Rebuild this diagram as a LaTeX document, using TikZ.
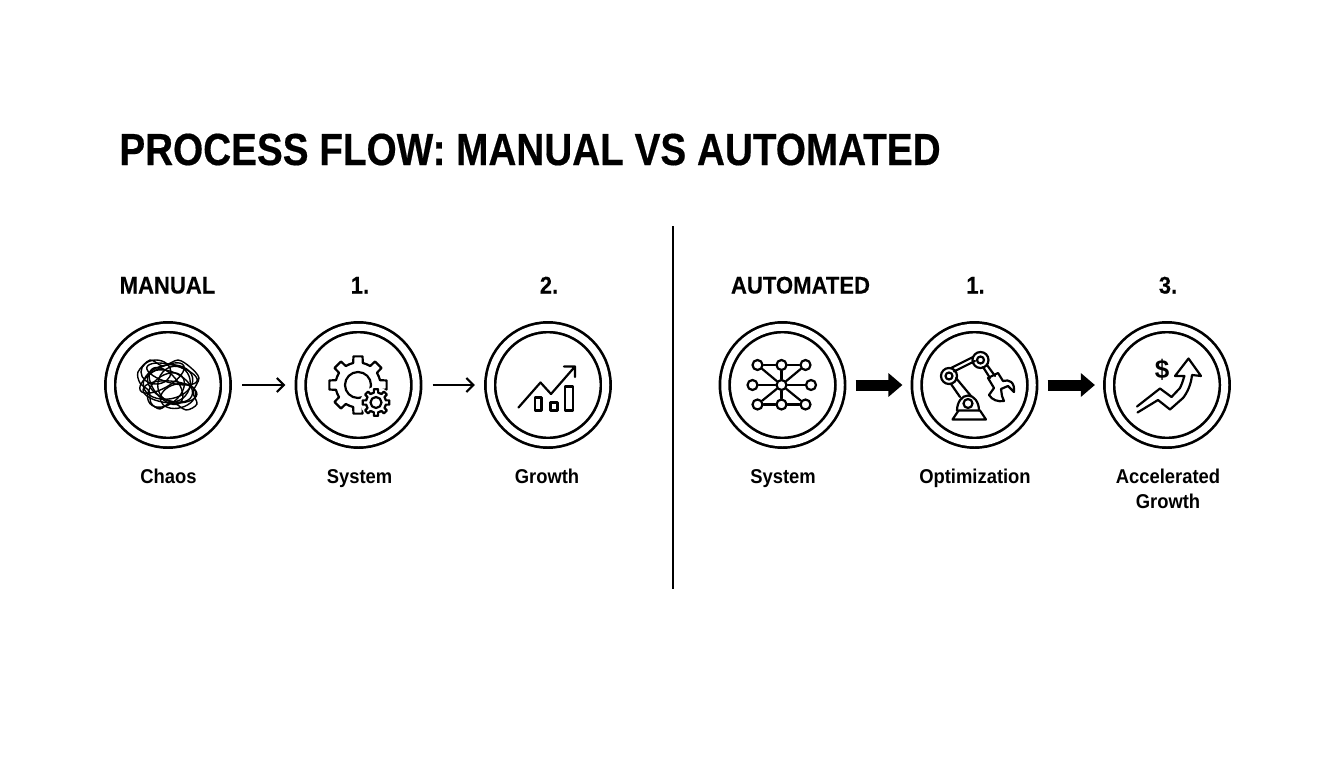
\documentclass[tikz,border=0pt]{standalone}
\usepackage{fontspec}
\setmainfont{Liberation Sans}
\newfontfamily\titlefont[FakeStretch=0.86,FakeBold=0.4]{Liberation Sans Bold}
\newfontfamily\headfont[FakeStretch=0.92,FakeBold=0.2]{Liberation Sans Bold}
\newfontfamily\capfont[FakeStretch=0.92]{Liberation Sans Bold}
\usetikzlibrary{arrows.meta}
\tikzset{
  ring/.style={circle,draw,double,line width=2.7pt,double distance=7pt,minimum size=115.5pt,inner sep=0pt},
  head/.style={font=\headfont\fontsize{24}{28}\selectfont,anchor=base},
  caption/.style={font=\capfont\fontsize{20}{25}\selectfont,align=center,anchor=base},
  thinarrow/.style={-{Straight Barb[length=7pt,width=14pt]},line width=2.2pt,shorten <=15pt,shorten >=14pt},
  thickarrow/.style={-{Triangle[length=14pt,width=23pt]},line width=11pt,shorten <=14pt,shorten >=13pt},
  icon/.style={line width=2.2pt,line join=round,line cap=round},
  scribble/.style={line width=1.4pt},
  dot/.style={circle,draw,fill=white,line width=2.2pt,minimum size=10pt,inner sep=0pt}
}
\newcommand{\gearicon}[4]{
  \foreach \i in {1,...,#4}{
    \pgfmathsetmacro{\a}{360/#4*\i}
    \pgfmathsetmacro{\s}{180/#4}
    \draw[icon,shift={(#1)}] (\a-\s:#3) -- (\a-0.55*\s:#3) -- (\a-0.4*\s:#2) -- (\a+0.4*\s:#2) -- (\a+0.55*\s:#3) -- (\a+\s:#3);
  }
}
\begin{document}
\begin{tikzpicture}[x=1pt,y=-1pt]
\useasboundingbox (0,0) rectangle (1344,768);
\node[font=\titlefont\fontsize{45}{50}\selectfont,anchor=base] (title) at (530,165) {PROCESS FLOW: MANUAL VS AUTOMATED};
\coordinate (divtop) at (673,226);
\coordinate (divbot) at (673,589);
\draw[line width=2pt] (divtop) -- (divbot);

\foreach \name/\x in {chaos/168,system/358.5,growth/548,network/782.5,robot/974.5,accel/1167}
  \node[ring] (\name) at (\x,385) {};

\node[head] (manual) at (167.5,293.5) {MANUAL};
\node[head] (numa) at (360,293.5) {1.};
\node[head] (numb) at (549,293.5) {2.};
\node[head] (auto) at (800.5,293.5) {AUTOMATED};
\node[head] (numc) at (975.5,293.5) {1.};
\node[head] (numd) at (1168,293.5) {3.};

\node[caption] (capa) at (168.5,483) {Chaos};
\node[caption] (capb) at (359.5,483) {System};
\node[caption] (capc) at (547,483) {Growth};
\node[caption] (capd) at (783,483) {System};
\node[caption] (cape) at (975,483) {Optimization};
\node[caption] (capf) at (1168,483) {Accelerated};
\node[caption] (capg) at (1168,508) {Growth};

\draw[thinarrow] (chaos) -- (system);
\draw[thinarrow] (system) -- (growth);
\draw[thickarrow] (network) -- (robot);
\draw[thickarrow] (robot) -- (accel);

\draw[scribble] plot[smooth cycle] coordinates {(138,372) (150,360) (163,366) (178,360) (190,367) (199,378) (193,392) (197,404) (186,410) (172,402) (160,409) (151,403) (149,391) (140,383)};
\foreach \rx/\ry/\ang/\cx/\cy in {25/17/10/168/382,24/14/-25/170/386,21/14/40/166/390,27/11/-5/170/392,18/16/70/174/384,25/10/30/162/378,22/12/-50/166/386,26/9/-15/172/374,18/12/15/178/396,15/12/0/156/372}
  \draw[scribble,rotate around={\ang:(\cx,\cy)}] (\cx,\cy) ellipse ({\rx} and {\ry});

\gearicon{358,385}{29}{22.5}{8}
\draw[icon] (358,385) circle (13);
\fill[white] (376,402.5) circle (15.5);
\gearicon{376,402.5}{13.5}{10}{8}
\draw[icon] (376,402.5) circle (5.5);

\draw[icon] (518.5,407.5) -- (540.5,382.5) -- (551,394) -- (575,366.5) (564,366.5) -- (575,366.5) -- (575,377);
\draw[icon,line cap=butt] (535,397.5) rectangle (541.5,410.5) (550.5,402.5) rectangle (557.5,410.5) (565,386.5) rectangle (573,410.5);

\foreach \n/\x/\y in {nw/757.5/365,nn/781.5/365,ne/805.5/365,mw/752.5/385,mm/781.5/385,me/811/385,sw/757.5/404.5,ss/781.5/404.5,se/805.5/404.5}
  \node[dot] (\n) at (\x,\y) {};
\foreach \u/\v in {nw/nn,nn/ne,sw/ss,ss/se,mm/nw,mm/nn,mm/ne,mm/mw,mm/me,mm/sw,mm/ss,mm/se}
  \draw[icon] (\u) -- (\v);

\draw[icon] (952.5,419.5) -- (986,419.5) -- (980,410.5) -- (958.5,410.5) -- cycle;
\draw[icon] (957,410.5) arc (180:360:11 and 15);
\draw[icon] (968,403.5) circle (4.5);
\draw[icon] (951,384) -- (960,397) (956,378) -- (971,396);
\draw[icon] (954,371.5) -- (975,361) (951,368) -- (973,357);
\draw[icon] (987,365) -- (995,376) (983,367) -- (990,378);
\draw[icon] (949,376) circle (8) circle (3.5);
\draw[icon] (980.5,360) circle (8) circle (3.5);
\draw[icon] (988,378) -- (998,373) -- (1003,381) .. controls (1009,379) and (1015,382) .. (1014,392) -- (1008,386) -- (1001,389) -- (1002,396) -- (1004,401) .. controls (998,402) and (992,400) .. (989,395) -- (994,388) -- cycle;

\node[font=\fontsize{26}{26}\selectfont\bfseries] (dollar) at (1162,370) {\$};
\draw[icon] (1137,406.5) -- (1160,388.5) -- (1171.5,397) -- (1180,388) .. controls (1183,382) and (1184,376) .. (1184.5,376) -- (1175,376) -- (1188.5,358.5) -- (1201,376) -- (1192,375) .. controls (1191,385) and (1187,393) .. (1183,398) -- (1170,409.5) -- (1158,400) -- (1137.5,412.5);
\end{tikzpicture}
\end{document}
